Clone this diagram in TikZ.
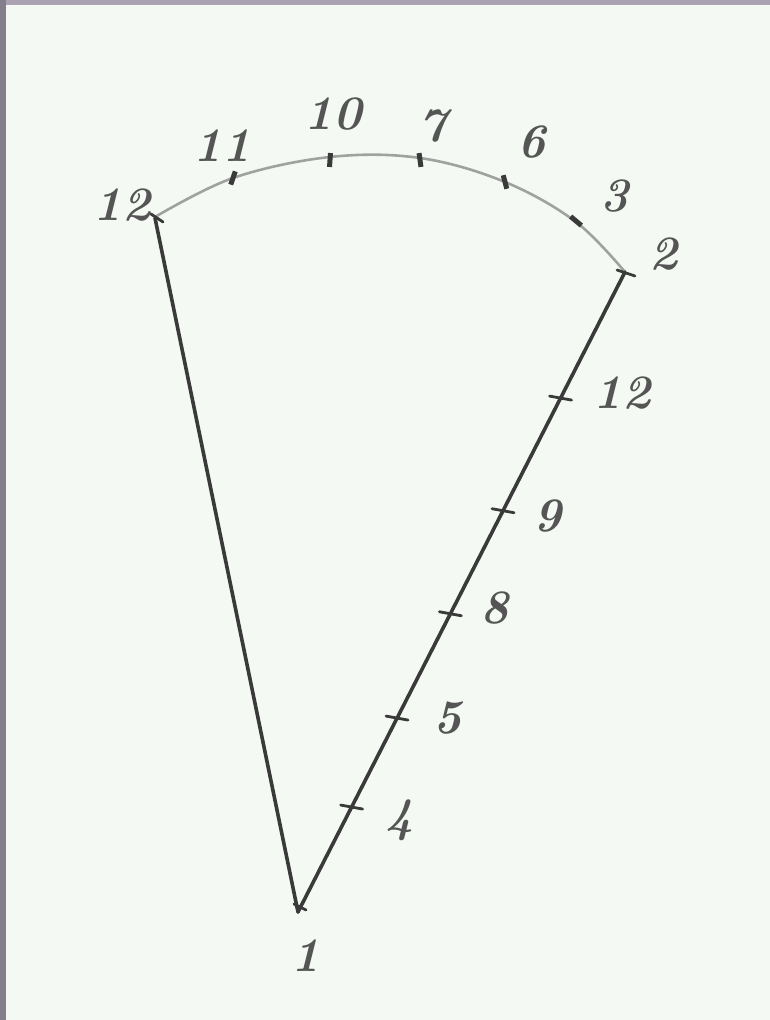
\documentclass[tikz,border=0pt]{standalone}
\usepackage{fontspec}
\usetikzlibrary{calc}
\definecolor{paper}{HTML}{F4FAF3}
\definecolor{edgetop}{HTML}{ABA3B3}
\definecolor{edgeleft}{HTML}{857F8C}
\definecolor{pencil}{HTML}{3A3A3A}
\definecolor{arcgrey}{HTML}{A0A2A0}
\definecolor{digitgrey}{HTML}{555555}
\begin{document}
\begin{tikzpicture}[x=1pt,y=-1pt,
  side/.style={draw=pencil,line width=3.6pt,line cap=round},
  arcline/.style={draw=arcgrey,line width=2.6pt,line cap=round},
  arctick/.style={draw=none,fill=pencil,minimum width=5pt,minimum height=14pt,inner sep=0pt,rectangle},
  linetick/.style={draw=pencil,line width=2.8pt,line cap=round},
  digit/.style={text=digitgrey,inner sep=0pt,font=\fontsize{48}{48}\selectfont\bfseries\itshape}
]
\useasboundingbox (0,0) rectangle (770,1020);
\fill[paper] (0,0) rectangle (770,1020);
\fill[edgetop] (0,0) rectangle (770,5);
\fill[edgeleft] (0,0) rectangle (6,1020);

\coordinate (O) at (298,912);
\coordinate (A) at (155,218);
\coordinate (B) at (625,272);

% arc
\draw[arcline] plot[smooth,tension=0.6] coordinates {(155,217) (233,178) (330,157) (420,158) (505,182) (576,222) (625,272)};

% sides
\draw[side] (O) -- (A);
\draw[side] (O) -- (B);

% arc ticks
\node[arctick,rotate=-19] (t11) at (233,178) {};
\node[arctick,rotate=-4] (t10) at (330,160) {};
\node[arctick,rotate=8] (t7) at (420,160) {};
\node[arctick,rotate=15] (t6) at (505,182) {};
\node[arctick,rotate=50] (t3) at (576,221) {};

% end ticks
\draw[linetick] ($(A)+(-4,-4)$) -- ($(A)+(8,4)$);
\draw[linetick] ($(B)+(-8,-2)$) -- ($(B)+(10,4)$);
\draw[linetick] ($(O)+(-4,-8)$) -- ($(O)+(8,-2)$);

% line ticks
\foreach \t/\n in {0.164/4,0.303/5,0.466/8,0.627/9,0.803/12}{
  \coordinate (m\n) at ($(O)!\t!(B)$);
  \draw[linetick] ($(m\n)+(-11,-2)$) -- ($(m\n)+(11,2)$);
}

% labels
\node[digit] (l12a) at (122,205) {12};
\node[digit] (l11) at (222,146) {11};
\node[digit] (l10) at (333,114) {10};
\node[digit] (l7) at (433,126) {7};
\node[digit] (l6) at (532,142) {6};
\node[digit] (l3) at (615,196) {3};
\node[digit] (l2) at (664,254) {2};
\node[digit] (l12b) at (622,393) {12};
\node[digit] (l9) at (548,516) {9};
\node[digit] (l8) at (495,608) {8};
\node[digit] (l5) at (448,718) {5};
\node[digit] (l4) at (400,820) {4};
\node[digit] (l1) at (306,956) {1};
\end{tikzpicture}
\end{document}
